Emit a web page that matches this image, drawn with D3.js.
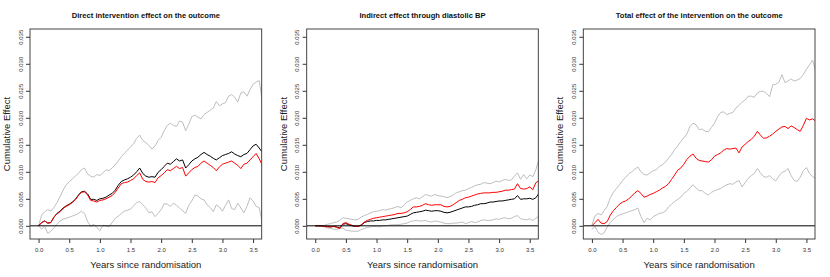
<!DOCTYPE html>
<html>
<head>
<meta charset="UTF-8" />
<script src="https://d3js.org/d3.v7.min.js"></script>
<style>
  body { margin: 0; background: #fff; }
  svg { display: block; font-family: "Liberation Sans", Arial, sans-serif; }
</style>
</head>
<body>
<div id="chart"></div>
<script>
// time grid (years since randomisation)
var years = [0, 0.05, 0.1, 0.15, 0.2, 0.25, 0.3, 0.35, 0.4, 0.45,
  0.5, 0.55, 0.6, 0.65, 0.7, 0.75, 0.8, 0.85, 0.9, 0.95,
  1.0, 1.05, 1.1, 1.15, 1.2, 1.25, 1.3, 1.35, 1.4, 1.45,
  1.5, 1.55, 1.6, 1.65, 1.7, 1.75, 1.8, 1.85, 1.9, 1.95,
  2.0, 2.05, 2.1, 2.15, 2.2, 2.25, 2.3, 2.35, 2.4, 2.45,
  2.5, 2.55, 2.6, 2.65, 2.7, 2.75, 2.8, 2.85, 2.9, 2.95,
  3.0, 3.05, 3.1, 3.15, 3.2, 3.25, 3.3, 3.35, 3.4, 3.45,
  3.5, 3.55, 3.6, 3.65];

// panel 1 : direct effect
var directBlack = [0, .0006, .0009, .0005, .0006, .0016, .0023, .0027, .0033, .0037,
  .0040, .0044, .0049, .0057, .0063, .0064, .0059, .0049, .0049, .0047,
  .0050, .0051, .0053, .0057, .0060, .0066, .0075, .0082, .0085, .0087,
  .0090, .0094, .0100, .0107, .0097, .0092, .0090, .0091, .0090, .0099,
  .0104, .0110, .0116, .0114, .0119, .0124, .0120, .0122, .0107, .0113,
  .0120, .0124, .0127, .0132, .0136, .0132, .0129, .0125, .0122, .0126,
  .0130, .0132, .0134, .0137, .0133, .0130, .0128, .0132, .0134, .0141,
  .0148, .0151, .0144, .0136];
var directRed = [0, .0006, .0009, .0005, .0006, .0016, .0022, .0026, .0032, .0036,
  .0039, .0043, .0048, .0056, .0062, .0063, .0057, .0047, .0046, .0044,
  .0047, .0048, .0050, .0053, .0056, .0062, .0070, .0078, .0080, .0081,
  .0084, .0087, .0093, .0098, .0086, .0082, .0081, .0082, .0080, .0089,
  .0093, .0098, .0104, .0102, .0106, .0110, .0106, .0108, .0092, .0098,
  .0104, .0108, .0110, .0116, .0120, .0116, .0112, .0108, .0102, .0109,
  .0114, .0116, .0118, .0120, .0116, .0112, .0106, .0114, .0116, .0122,
  .0128, .0134, .0124, .0113];
var directUpper = [0, .0020, .0026, .0030, .0027, .0034, .0043, .0054, .0066, .0076,
  .0081, .0087, .0092, .0097, .0104, .0107, .0096, .0092, .0090, .0095,
  .0093, .0098, .0104, .0102, .0107, .0113, .0120, .0128, .0134, .0140,
  .0146, .0152, .0162, .0168, .0158, .0154, .0149, .0142, .0148, .0158,
  .0164, .0176, .0186, .0190, .0186, .0184, .0194, .0192, .0176, .0188,
  .0202, .0205, .0201, .0198, .0206, .0210, .0214, .0218, .0230, .0222,
  .0226, .0228, .0240, .0243, .0238, .0229, .0246, .0248, .0240, .0252,
  .0262, .0266, .0269, .0230];
var directLower = [0, -.0006, -.0001, -.0014, -.0010, -.0004, .0003, .0009, .0012, .0014,
  .0016, .0018, .0020, .0023, .0027, .0023, .0008, -.0001, .0003, -.0003,
  -.0009, .0001, .0000, -.0002, .0006, .0014, .0018, .0023, .0027, .0029,
  .0031, .0037, .0043, .0045, .0039, .0033, .0024, .0026, .0017, .0023,
  .0030, .0041, .0040, .0036, .0042, .0038, .0033, .0028, .0023, .0038,
  .0046, .0057, .0055, .0050, .0048, .0039, .0034, .0026, .0039, .0035,
  .0027, .0038, .0048, .0032, .0030, .0042, .0033, .0024, .0036, .0052,
  .0046, .0036, .0034, .0005];

// panel 2 : indirect effect through diastolic BP
var indirectBlack = [0, 0, 0, -.0001, -.0001, -.0002, -.0001, -.0002, -.0004, .0003,
  .0004, .0002, .0000, -.0001, -.0001, .0001, .0006, .0008, .0009, .0009,
  .0010, .0010, .0011, .0011, .0012, .0013, .0014, .0015, .0016, .0017,
  .0018, .0021, .0024, .0025, .0026, .0027, .0029, .0028, .0027, .0028,
  .0028, .0027, .0025, .0024, .0025, .0027, .0029, .0031, .0033, .0035,
  .0035, .0036, .0038, .0039, .0041, .0041, .0042, .0044, .0044, .0045,
  .0046, .0046, .0047, .0048, .0049, .0050, .0056, .0049, .0050, .0050,
  .0051, .0049, .0052, .0060];
var indirectRed = [0, 0, 0, -.0001, -.0002, -.0002, -.0001, -.0003, -.0005, .0004,
  .0006, .0003, .0001, -.0001, -.0001, .0002, .0007, .0010, .0012, .0014,
  .0015, .0016, .0017, .0018, .0019, .0020, .0021, .0023, .0023, .0024,
  .0026, .0030, .0035, .0035, .0036, .0038, .0041, .0039, .0038, .0039,
  .0039, .0039, .0036, .0035, .0036, .0039, .0043, .0047, .0049, .0052,
  .0053, .0055, .0057, .0059, .0060, .0061, .0061, .0061, .0062, .0062,
  .0063, .0064, .0066, .0066, .0067, .0068, .0078, .0069, .0068, .0069,
  .0072, .0067, .0080, .0083];
var indirectUpper = [0, 0, 0, .0001, .0003, .0004, .0006, .0007, .0010, .0015,
  .0014, .0013, .0012, .0011, .0012, .0016, .0019, .0021, .0024, .0026,
  .0027, .0028, .0030, .0029, .0031, .0032, .0034, .0036, .0033, .0039,
  .0044, .0047, .0050, .0052, .0050, .0054, .0058, .0056, .0055, .0058,
  .0056, .0055, .0054, .0052, .0054, .0057, .0061, .0063, .0065, .0066,
  .0069, .0071, .0074, .0076, .0077, .0080, .0079, .0078, .0080, .0083,
  .0081, .0084, .0086, .0084, .0085, .0092, .0098, .0086, .0095, .0087,
  .0094, .0091, .0104, .0123];
var indirectLower = [0, 0, -.0001, -.0002, -.0004, -.0005, -.0006, -.0007, -.0005, -.0004,
  -.0008, -.0009, -.0010, -.0010, -.0010, -.0007, -.0005, -.0003, -.0002, -.0001,
  -.0001, -.0002, .0000, .0000, .0001, .0002, .0002, .0002, .0003, .0004,
  .0005, .0008, .0009, .0010, .0009, .0009, .0010, .0008, .0007, .0009,
  .0008, .0007, .0005, .0004, .0004, .0005, .0005, .0006, .0007, .0004,
  .0006, .0008, .0006, .0007, .0010, .0011, .0010, .0010, .0011, .0013,
  .0012, .0014, .0015, .0013, .0014, .0017, .0019, .0013, .0012, .0011,
  .0013, .0010, .0014, .0018];

// panel 3 : total effect
var totalRed = [0, .0006, .0012, .0005, .0004, .0008, .0020, .0028, .0034, .0040,
  .0044, .0046, .0050, .0055, .0061, .0065, .0060, .0053, .0055, .0058,
  .0060, .0063, .0066, .0070, .0073, .0078, .0086, .0094, .0103, .0107,
  .0114, .0123, .0129, .0133, .0125, .0121, .0120, .0119, .0118, .0122,
  .0129, .0132, .0135, .0140, .0143, .0142, .0143, .0144, .0135, .0146,
  .0151, .0156, .0160, .0166, .0175, .0168, .0162, .0163, .0166, .0170,
  .0175, .0179, .0183, .0184, .0180, .0185, .0182, .0178, .0175, .0186,
  .0199, .0196, .0198, .0194];
var totalUpper = [.0002, .0018, .0023, .0020, .0028, .0036, .0052, .0062, .0069, .0076,
  .0084, .0090, .0096, .0100, .0105, .0109, .0100, .0095, .0094, .0098,
  .0102, .0104, .0110, .0113, .0118, .0125, .0132, .0141, .0148, .0156,
  .0163, .0170, .0184, .0190, .0187, .0178, .0179, .0175, .0174, .0182,
  .0190, .0202, .0210, .0211, .0206, .0208, .0210, .0218, .0223, .0229,
  .0233, .0240, .0240, .0238, .0246, .0249, .0249, .0245, .0239, .0261,
  .0262, .0266, .0280, .0265, .0268, .0272, .0268, .0270, .0273, .0280,
  .0290, .0298, .0307, .0286];
var totalLower = [-.0007, -.0001, -.0012, -.0016, -.0013, -.0002, .0006, .0012, .0017, .0020,
  .0022, .0024, .0026, .0028, .0030, .0033, .0017, .0006, .0014, .0011,
  .0017, .0020, .0023, .0024, .0027, .0035, .0040, .0045, .0049, .0053,
  .0060, .0064, .0070, .0076, .0070, .0065, .0065, .0060, .0057, .0062,
  .0065, .0067, .0069, .0073, .0076, .0078, .0077, .0081, .0084, .0072,
  .0080, .0088, .0093, .0097, .0106, .0098, .0091, .0090, .0093, .0087,
  .0083, .0092, .0099, .0101, .0106, .0093, .0084, .0082, .0090, .0102,
  .0108, .0097, .0091, .0088];

var xTicks = [0, 0.5, 1, 1.5, 2, 2.5, 3, 3.5];
var yTicks = [0, 0.005, 0.01, 0.015, 0.02, 0.025, 0.03, 0.035];

var panels = [
  { title: "Direct intervention effect on the outcome",
    grey: [directUpper, directLower], black: directBlack, red: directRed },
  { title: "Indirect effect through diastolic BP",
    grey: [indirectUpper, indirectLower], black: indirectBlack, red: indirectRed },
  { title: "Total effect of the intervention on the outcome",
    grey: [totalUpper, totalLower], black: null, red: totalRed }
];

var W = 830, H = 277;
var panelW = W / 3;
var margin = { top: 29, right: 15, bottom: 38, left: 30 };
var innerW = panelW - margin.left - margin.right;
var innerH = H - margin.top - margin.bottom;

var svg = d3.select("#chart").append("svg")
  .attr("width", W).attr("height", H);

// R style limits: xlim c(0,3.5), ylim c(-0.001,0.035), 4% padding
var x = d3.scaleLinear().domain([-0.14, 3.64]).range([0, innerW]);
var y = d3.scaleLinear().domain([-0.00244, 0.03644]).range([innerH, 0]);

svg.append("defs").append("clipPath").attr("id", "plotclip")
  .append("rect").attr("width", innerW).attr("height", innerH);

panels.forEach(function (p, i) {
  var g = svg.append("g")
    .attr("transform", "translate(" + (i * panelW + margin.left) + "," + margin.top + ")");

  var line = d3.line()
    .x(function (d, k) { return x(years[k]); })
    .y(function (d) { return y(d); });

  var plot = g.append("g").attr("clip-path", "url(#plotclip)");

  p.grey.forEach(function (s) {
    plot.append("path").datum(s).attr("d", line)
      .attr("fill", "none").attr("stroke", "#bebebe").attr("stroke-width", 1);
  });
  if (p.black) {
    plot.append("path").datum(p.black).attr("d", line)
      .attr("fill", "none").attr("stroke", "#000").attr("stroke-width", 1);
  }
  plot.append("path").datum(p.red).attr("d", line)
    .attr("fill", "none").attr("stroke", "#ff0000").attr("stroke-width", 1);

  // horizontal reference at 0
  g.append("line")
    .attr("x1", 0).attr("x2", innerW)
    .attr("y1", y(0)).attr("y2", y(0))
    .attr("stroke", "#000").attr("stroke-width", 1);

  // axes
  var xAxis = g.append("g").attr("transform", "translate(0," + innerH + ")")
    .call(d3.axisBottom(x).tickValues(xTicks).tickFormat(d3.format(".1f")).tickSizeOuter(0).tickSize(4).tickPadding(5));
  xAxis.select(".domain").remove();
  xAxis.selectAll("text").attr("font-size", 6).attr("fill", "#333");
  xAxis.selectAll("line").attr("stroke", "#333");

  var yAxis = g.append("g")
    .call(d3.axisLeft(y).tickValues(yTicks).tickFormat(d3.format(".3f")).tickSizeOuter(0).tickSize(4));
  yAxis.select(".domain").remove();
  yAxis.selectAll("line").attr("stroke", "#333");
  yAxis.selectAll("text")
    .attr("font-size", 6).attr("fill", "#333")
    .attr("text-anchor", "middle")
    .attr("x", null)
    .attr("transform", "translate(-9.5,0) rotate(-90)")
    .attr("dy", "0.35em");

  // box
  g.append("rect")
    .attr("x", 0).attr("y", 0).attr("width", innerW).attr("height", innerH)
    .attr("fill", "none").attr("stroke", "#444").attr("stroke-width", 1);

  // title
  g.append("text")
    .attr("x", innerW / 2).attr("y", -11.5)
    .attr("text-anchor", "middle").attr("font-weight", "bold")
    .attr("font-size", 7.6).attr("fill", "#111")
    .text(p.title);

  // axis labels
  g.append("text")
    .attr("x", innerW / 2).attr("y", innerH + 29)
    .attr("text-anchor", "middle").attr("font-size", 9.5).attr("fill", "#222")
    .text("Years since randomisation");

  g.append("text")
    .attr("transform", "translate(-20," + (innerH / 2) + ") rotate(-90)")
    .attr("text-anchor", "middle").attr("font-size", 9.5).attr("fill", "#222")
    .text("Cumulative Effect");
});
</script>
</body>
</html>
